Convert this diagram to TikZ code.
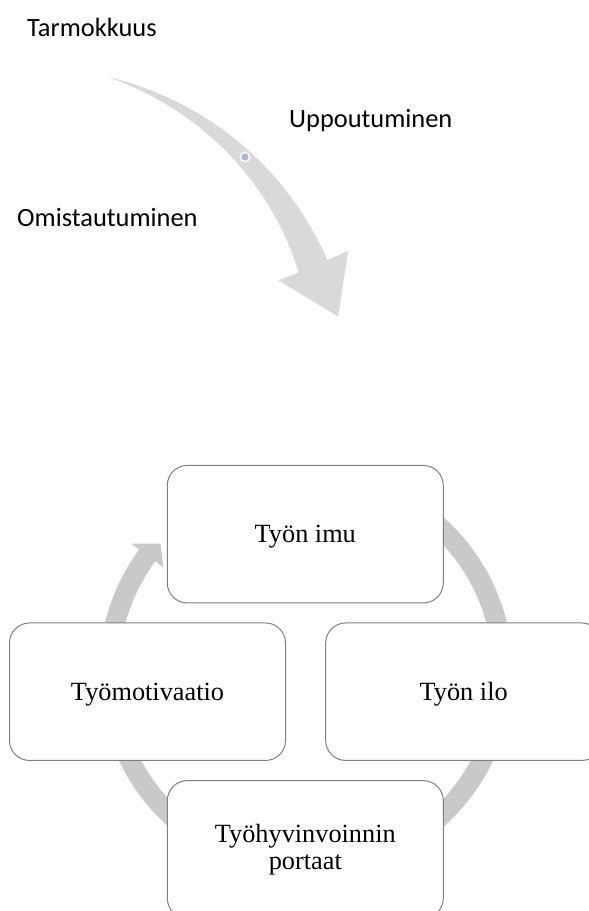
\documentclass[tikz,border=0pt]{standalone}
\usepackage{fontspec}
\setmainfont{Liberation Serif}
\newfontfamily\calib{Carlito}
\definecolor{ringgray}{HTML}{C9C9C9}
\definecolor{arrowgray}{HTML}{D9D9D9}
\definecolor{boxline}{HTML}{808080}
\definecolor{dotblue}{HTML}{A7B5DC}
\begin{document}
\begin{tikzpicture}[x=1pt,y=1pt,
  lbl/.style={font=\calib\fontsize{26.4pt}{31pt}\selectfont, inner sep=0pt, anchor=base west},
  cbox/.style={draw=boxline, line width=1pt, fill=white, rounded corners=20pt,
    minimum width=276pt, minimum height=137.5pt, inner sep=0pt,
    font=\fontsize{26.3pt}{26.7pt}\selectfont},
  onel/.style={text height=18pt, text depth=1pt},
  twol/.style={align=center}]
\useasboundingbox (0,0) rectangle (589,-911);
\fill[white] (0,0) rectangle (589,-911);

% curved arrow at the top
\begin{scope}[shift={(35.3,-387.1)}]
\fill[arrowgray] (76.8:318.5) arc[start angle=76.8,end angle=23.5,radius=318.5]
  -- (23.55:341.4) -- (13.1:311) -- (23.7:265.6) -- (23.5:287.2)
  -- plot[domain=23.5:76.8,samples=40,variable=\t] (\t:{318.5-31.3*(76.8-\t)/53.3})
  -- cycle;
\end{scope}
\fill[white] (245,-157) circle[radius=5.5];
\fill[dotblue] (245,-157) circle[radius=3.6];

\node[lbl] (tarmo) at (27,-36) {Tarmokkuus};
\node[lbl] (uppo) at (289,-127) {Uppoutuminen};
\node[lbl] (omis) at (17,-226.5) {Omistautuminen};

% cycle ring
\begin{scope}[shift={(306,-672)}]
\fill[ringgray] (75:207) arc[start angle=75,end angle=-216.3,radius=207]
  -- (143.7:217) -- (138.6:194) -- (143.7:177) -- (143.7:187)
  arc[start angle=-216.3,end angle=75,radius=187] -- cycle;
\end{scope}

\node[cbox,onel] (imu) at (305.3,-534.2) {Työn imu};
\node[cbox,onel] (motiv) at (147.5,-691.7) {Työmotivaatio};
\node[cbox,onel] (ilo) at (463.7,-691.7) {Työn ilo};
\node[cbox,twol] (portaat) at (305.3,-849.4) {Työhyvinvoinnin\\portaat};
\end{tikzpicture}
\end{document}
